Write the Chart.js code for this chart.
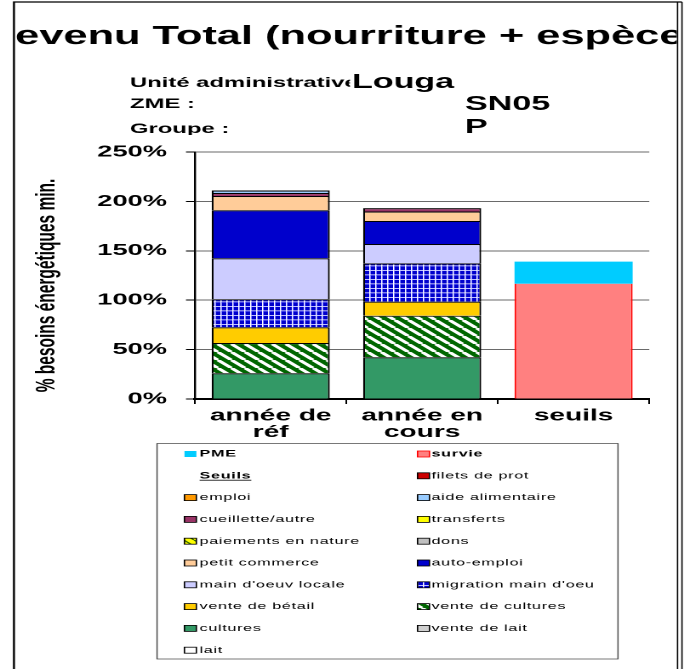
<!DOCTYPE html>
<html>
<head>
<meta charset="utf-8">
<script src="https://cdn.jsdelivr.net/npm/chart.js@4.4.1/dist/chart.umd.min.js"></script>
<style>
  html, body { margin: 0; padding: 0; background: #fff; overflow: hidden; }
  /* le graphique d'origine est étiré horizontalement, on fait pareil */
  #cadre { width: 402px; height: 669px; transform: scaleX(1.7015); transform-origin: 0 0; }
  #graphRevenu { display: block; width: 402px; height: 669px; }
</style>
</head>
<body>
<div id="cadre"><canvas id="graphRevenu" width="402" height="669"></canvas></div>
<script>
// Textes
const titre = "Revenu Total (nourriture + espèces)"
const uniteLabel = "Unité administrative :"
const uniteValeur = "Louga"
const zmeLabel = "ZME :"
const zmeValeur = "SN05"
const groupeLabel = "Groupe :"
const groupeValeur = "P"
const titreAxeY = "% besoins énergétiques min."

// Données (% des besoins énergétiques minimum)
const categories = [["année de", "réf"], ["année en", "cours"], "seuils"]
const lait = [0, 0, 0]
const venteLait = [0, 0, 0]
const cultures = [26.0, 42.2, 0]
const venteCultures = [30.7, 42.1, 0]
const venteBetail = [15.9, 14.2, 0]
const migration = [28.3, 38.8, 0]
const mainLocale = [41.5, 19.6, 0]
const autoEmploi = [48.6, 23.3, 0]
const petitCommerce = [14.5, 9.6, 0]
const dons = [0, 0, 0]
const paiements = [0, 0, 0]
const transferts = [0, 0, 0]
const cueillette = [3.0, 3.4, 0]
const aideAlim = [2.5, 0, 0]
const emploi = [0, 0, 0]
const filets = [0, 0, 0]
const survie = [0, 0, 116.7]
const pme = [0, 0, 22.3]
const yTicks = [0, 50, 100, 150, 200, 250]

// ordre de la légende (2 colonnes, lecture par ligne)
const legendeLignes = [
    ["PME", "survie"], ["Seuils", "filets de prot"], ["emploi", "aide alimentaire"],
    ["cueillette/autre", "transferts"], ["paiements en nature", "dons"],
    ["petit commerce", "auto-emploi"], ["main d'oeuv locale", "migration main d'oeu"],
    ["vente de bétail", "vente de cultures"], ["cultures", "vente de lait"], ["lait"]
]

const police = "'Liberation Sans', Arial, sans-serif"

// motifs (tuiles dessinées en pixels écran x2)
const makePattern = (w, h, dessin) => {
    const c = document.createElement("canvas")
    c.width = w
    c.height = h
    const g = c.getContext("2d")
    dessin(g, w, h)
    const p = g.createPattern(c, "repeat")
    p.setTransform(new DOMMatrix().scale(0.5, 0.5))
    return p
}

const rayuresVertes = makePattern(16, 16, (g, w, h) => {
    g.fillStyle = "#006600"
    g.fillRect(0, 0, w, h)
    g.strokeStyle = "#ffffff"
    g.lineWidth = 5
    g.beginPath()
    for (const k of [-16, 0, 16]) { g.moveTo(k, 0); g.lineTo(k + 16, 16) }
    g.stroke()
})

const grilleBleue = makePattern(7, 9, (g, w, h) => {
    g.fillStyle = "#0000CC"
    g.fillRect(0, 0, w, h)
    g.fillStyle = "#8080ff"
    g.fillRect(1, 0, 1, h)
    g.fillRect(0, 1, w, 1)
    g.fillStyle = "#ffffff"
    g.fillRect(0, 0, 1, h)
    g.fillRect(0, 0, w, 1)
})

const hachuresJaunes = makePattern(12, 12, (g, w, h) => {
    g.fillStyle = "#FFFF00"
    g.fillRect(0, 0, w, h)
    g.strokeStyle = "#336600"
    g.lineWidth = 2
    g.beginPath()
    for (const k of [-12, 0, 12]) { g.moveTo(k, 0); g.lineTo(k + 12, 12) }
    g.stroke()
})

// séries, de bas en haut de la pile
const series = [
    { label: "lait", data: lait, fond: "#FFFFFF" },
    { label: "vente de lait", data: venteLait, fond: "#D0D0D0" },
    { label: "cultures", data: cultures, fond: "#339966" },
    { label: "vente de cultures", data: venteCultures, fond: rayuresVertes },
    { label: "vente de bétail", data: venteBetail, fond: "#FFCC00" },
    { label: "migration main d'oeu", data: migration, fond: grilleBleue },
    { label: "main d'oeuv locale", data: mainLocale, fond: "#CCCCFF" },
    { label: "auto-emploi", data: autoEmploi, fond: "#0000CC" },
    { label: "petit commerce", data: petitCommerce, fond: "#FFCC99" },
    { label: "dons", data: dons, fond: "#C0C0C0" },
    { label: "paiements en nature", data: paiements, fond: hachuresJaunes },
    { label: "transferts", data: transferts, fond: "#FFFF00" },
    { label: "cueillette/autre", data: cueillette, fond: "#993366" },
    { label: "aide alimentaire", data: aideAlim, fond: "#99CCFF" },
    { label: "emploi", data: emploi, fond: "#FF9900" },
    { label: "filets de prot", data: filets, fond: "#CC0000" },
    { label: "survie", data: survie, fond: "#FF8080", bord: "#FF0000", largeur: { left: 1, right: 1, top: 0, bottom: 0 } },
    { label: "PME", data: pme, fond: "#00CCFF", bord: "#00CCFF", largeur: 0 }
]

const datasets = series.map(s => ({
    label: s.label,
    data: s.data,
    backgroundColor: s.fond,
    borderColor: s.bord || "#000000",
    borderWidth: s.largeur !== undefined ? s.largeur : 1.1,
    barPercentage: 0.78,
    categoryPercentage: 1
}))

// cadre, titres, légende
const decor = {
    id: "decor",
    beforeDraw(chart) {
        const ctx = chart.ctx
        ctx.save()
        ctx.fillStyle = "#ffffff"
        ctx.fillRect(0, 0, chart.width, chart.height)
        ctx.restore()
    },
    afterDraw(chart) {
        const ctx = chart.ctx
        ctx.save()

        // cadre extérieur
        ctx.strokeStyle = "#000"
        ctx.lineWidth = 1.2
        ctx.beginPath()
        ctx.moveTo(8.2, 669); ctx.lineTo(8.2, 2); ctx.lineTo(400.8, 2)
        ctx.stroke()
        ctx.lineWidth = 0.8
        ctx.beginPath()
        ctx.moveTo(398.2, 2); ctx.lineTo(398.2, 669)
        ctx.moveTo(400.8, 2); ctx.lineTo(400.8, 669)
        ctx.stroke()

        // titre (coupé par le cadre, le R sort à gauche)
        ctx.save()
        ctx.beginPath()
        ctx.rect(8.9, 3, 388.8, 60)
        ctx.clip()
        ctx.fillStyle = "#000"
        ctx.font = "bold 25.5px " + police
        ctx.textAlign = "left"
        ctx.textBaseline = "alphabetic"
        ctx.fillText(titre, 8.9 - ctx.measureText("R").width, 44)
        ctx.restore()

        // infos
        ctx.save()
        ctx.beginPath()
        ctx.rect(0, 60, 402, 75)
        ctx.clip()
        ctx.fillStyle = "#000"
        ctx.textAlign = "left"
        ctx.font = "bold 14px " + police
        ctx.save()
        ctx.beginPath()
        ctx.rect(0, 60, 205.7, 75)
        ctx.clip()
        ctx.fillText(uniteLabel, 76.4, 87)
        ctx.restore()
        ctx.fillText(zmeLabel, 76.4, 108)
        ctx.fillText(groupeLabel, 76.4, 133)
        ctx.font = "bold 20px " + police
        ctx.fillText(uniteValeur, 206.9, 88)
        ctx.fillText(zmeValeur, 273.3, 110)
        ctx.fillText(groupeValeur, 273.3, 133)
        ctx.restore()

        // titre axe y
        ctx.save()
        ctx.translate(27.6, 285.5)
        ctx.rotate(-Math.PI / 2)
        ctx.fillStyle = "#000"
        ctx.font = "bold 15.5px " + police
        ctx.textAlign = "center"
        ctx.textBaseline = "middle"
        ctx.fillText(titreAxeY, 0, 0)
        ctx.restore()

        // légende
        ctx.strokeStyle = "#404040"
        ctx.lineWidth = 0.7
        ctx.strokeRect(92.3, 443.5, 270.9, 215.5)
        const colBoite = [108.4, 245.4]
        const colTexte = [117.3, 253.6]
        ctx.letterSpacing = "0.4px"
        ctx.textBaseline = "middle"
        ctx.textAlign = "left"
        legendeLignes.forEach((ligne, i) => {
            const y = 454 + i * 21.8
            ligne.forEach((nom, j) => {
                const ds = chart.data.datasets.find(d => d.label === nom)
                if (!ds) {
                    ctx.font = "bold 9.5px " + police
                    ctx.fillStyle = "#000"
                    ctx.fillText(nom, colTexte[j], y)
                    const w = ctx.measureText(nom).width
                    ctx.fillRect(colTexte[j], y + 4, w, 0.8)
                    return
                }
                ctx.fillStyle = ds.backgroundColor
                ctx.fillRect(colBoite[j], y - 3, 7, 6)
                if (ds.borderWidth !== 0) {
                    ctx.strokeStyle = ds.borderColor
                    ctx.lineWidth = 0.8
                    ctx.strokeRect(colBoite[j], y - 3, 7, 6)
                }
                ctx.fillStyle = "#000"
                ctx.font = (nom === "PME" || nom === "survie" ? "bold " : "") + "9.5px " + police
                ctx.fillText(nom, colTexte[j], y)
            })
        })

        ctx.restore()
    }
}

const graphique = new Chart(document.getElementById("graphRevenu"), {
    type: "bar",
    data: { labels: categories, datasets: datasets },
    plugins: [decor],
    options: {
        responsive: false,
        devicePixelRatio: 2,
        animation: false,
        layout: { padding: { left: 0, right: 20.4, top: 152, bottom: 0 } },
        plugins: {
            legend: { display: false },
            title: { display: false },
            tooltip: { enabled: false }
        },
        scales: {
            x: {
                stacked: true,
                grid: {
                    offset: true,
                    color: c => c.index === categories.length ? "#808080" : "rgba(0,0,0,0)",
                    tickColor: "#000",
                    tickLength: 5,
                    lineWidth: 1
                },
                border: { color: "#000", width: 2 },
                ticks: {
                    color: "#000",
                    font: { family: police, weight: "bold", size: 16.5, lineHeight: 1 },
                    padding: 3.5,
                    maxRotation: 0,
                    autoSkip: false
                },
                afterFit: s => { s.height = 270 }
            },
            y: {
                stacked: true,
                min: yTicks[0],
                max: yTicks[yTicks.length - 1],
                afterBuildTicks: s => { s.ticks = yTicks.map(v => ({ value: v })) },
                ticks: {
                    callback: v => v + "%",
                    color: "#000",
                    font: { family: police, weight: "bold", size: 16 },
                    padding: 11.2
                },
                grid: { color: "#6a6a6a", tickColor: "#000", tickLength: 5.3, lineWidth: 1 },
                border: { color: "#000", width: 1.2 },
                afterFit: s => { s.width = 114.6 }
            }
        }
    }
})
</script>
</body>
</html>
